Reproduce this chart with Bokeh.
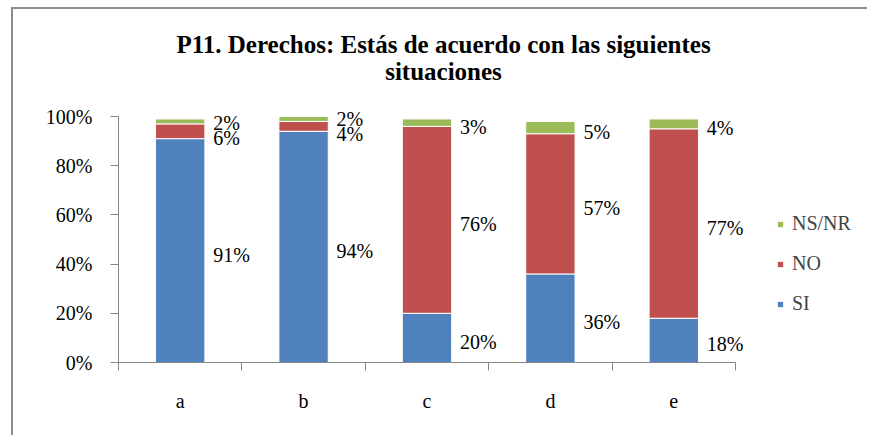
from bokeh.plotting import figure
from bokeh.models import (ColumnDataSource, FixedTicker, NumeralTickFormatter, Legend,
                          LegendItem, LabelSet, Label)
from bokeh.embed import file_html
from bokeh.resources import INLINE

categories = ["a", "b", "c", "d", "e"]
si = [0.91, 0.94, 0.20, 0.36, 0.18]
no = [0.06, 0.04, 0.76, 0.57, 0.77]
nsnr = [0.02, 0.02, 0.03, 0.05, 0.04]
series = ["SI", "NO", "NS/NR"]
colors = ["#4F81BD", "#C0504D", "#9BBB59"]
title_lines = ["P11. Derechos: Estás de acuerdo con las siguientes", "situaciones"]

SERIF = "Liberation Serif"
xs = [i + 0.5 for i in range(len(categories))]
PX_PER_UNIT = 246  # frame pixels per 100%

src = ColumnDataSource(dict(x=xs, SI=si, NO=no, NSNR=nsnr))

# frame spans the whole figure above/right of the axes so annotations are not clipped
p = figure(width=856, height=428, x_range=(0, 6.086), y_range=(0, 1.435),
           output_backend="svg", toolbar_location=None, title_location=None,
           min_border_left=105, min_border_right=0, min_border_top=0,
           min_border_bottom=75)
p.styles = {"border-left": "2px solid #8c8c8c", "border-top": "2px solid #8c8c8c",
            "margin-left": "11px", "margin-top": "7px"}
p.outline_line_color = None
p.xgrid.grid_line_color = None
p.ygrid.grid_line_color = None

rs = p.vbar_stack(["SI", "NO", "NSNR"], x="x", width=0.4, source=src,
                  color=colors, line_color="white", line_width=1)

# axes
axc = "#868686"
p.xaxis.bounds = (0, 5)
p.yaxis.bounds = (0, 1)
p.xaxis.ticker = FixedTicker(ticks=xs, minor_ticks=list(range(len(categories) + 1)))
p.xaxis.major_label_overrides = {x: c for x, c in zip(xs, categories)}
p.xaxis.minor_tick_line_color = axc
p.xaxis.minor_tick_out = 8
p.xaxis.minor_tick_in = 0
p.xaxis.major_label_standoff = 19
p.yaxis.ticker = FixedTicker(ticks=[0, 0.2, 0.4, 0.6, 0.8, 1.0])
p.yaxis.formatter = NumeralTickFormatter(format="0%")
p.yaxis.major_tick_out = 8
p.yaxis.major_tick_in = 0
p.yaxis.minor_tick_line_color = None
p.yaxis.major_label_standoff = 18
for ax in (p.xaxis, p.yaxis):
    ax.axis_line_color = axc
    ax.major_label_text_font = SERIF
    ax.major_label_text_font_size = "20px"
    ax.major_label_text_color = "black"
p.xaxis.major_tick_line_color = None
p.yaxis.major_tick_line_color = axc

# data labels (centred on each segment, nudged apart when they would overlap)
zero = [0] * len(si)
base_ns = [a + b for a, b in zip(si, no)]
lab_x, lab_y, lab_t, lab_dy = [], [], [], []
MIN_GAP = 15
for k, (vals, base) in enumerate(((si, zero), (no, si), (nsnr, base_ns))):
    for i, (v, b) in enumerate(zip(vals, base)):
        lab_x.append(xs[i])
        lab_y.append(b + v / 2)
        lab_t.append(f"{round(v * 100)}%")
        dy = -4
        gap = (no[i] / 2 + nsnr[i] / 2) * PX_PER_UNIT
        push = max(0, (MIN_GAP - gap) / 2)
        if k == 1:
            dy -= push
        elif k == 2:
            dy += push
        lab_dy.append(dy)
lsrc = ColumnDataSource(dict(x=lab_x, y=lab_y, t=lab_t, dy=lab_dy))
labels = LabelSet(x="x", y="y", text="t", source=lsrc, x_offset=33, y_offset="dy",
                  text_align="left", text_baseline="middle", text_font=SERIF,
                  text_font_size="20px", text_color="black")
p.add_layout(labels)

# legend
legend = Legend(items=[LegendItem(label=series[i], renderers=[rs[i]]) for i in (2, 1, 0)],
                location=(658, 47), glyph_width=8, glyph_height=8, label_height=20,
                spacing=17, padding=0, margin=0, border_line_color=None,
                background_fill_alpha=0, label_text_font=SERIF,
                label_text_font_size="20px", label_standoff=8)
p.add_layout(legend)

# title
for i, line in enumerate(title_lines):
    p.add_layout(Label(x=325, y=318 - 27 * i, x_units="screen", y_units="screen",
                       text=line, text_align="center", text_baseline="middle",
                       text_font=SERIF, text_font_style="bold",
                       text_font_size="25px", text_color="black"))

open("out.html", "w").write(file_html(p, INLINE))
